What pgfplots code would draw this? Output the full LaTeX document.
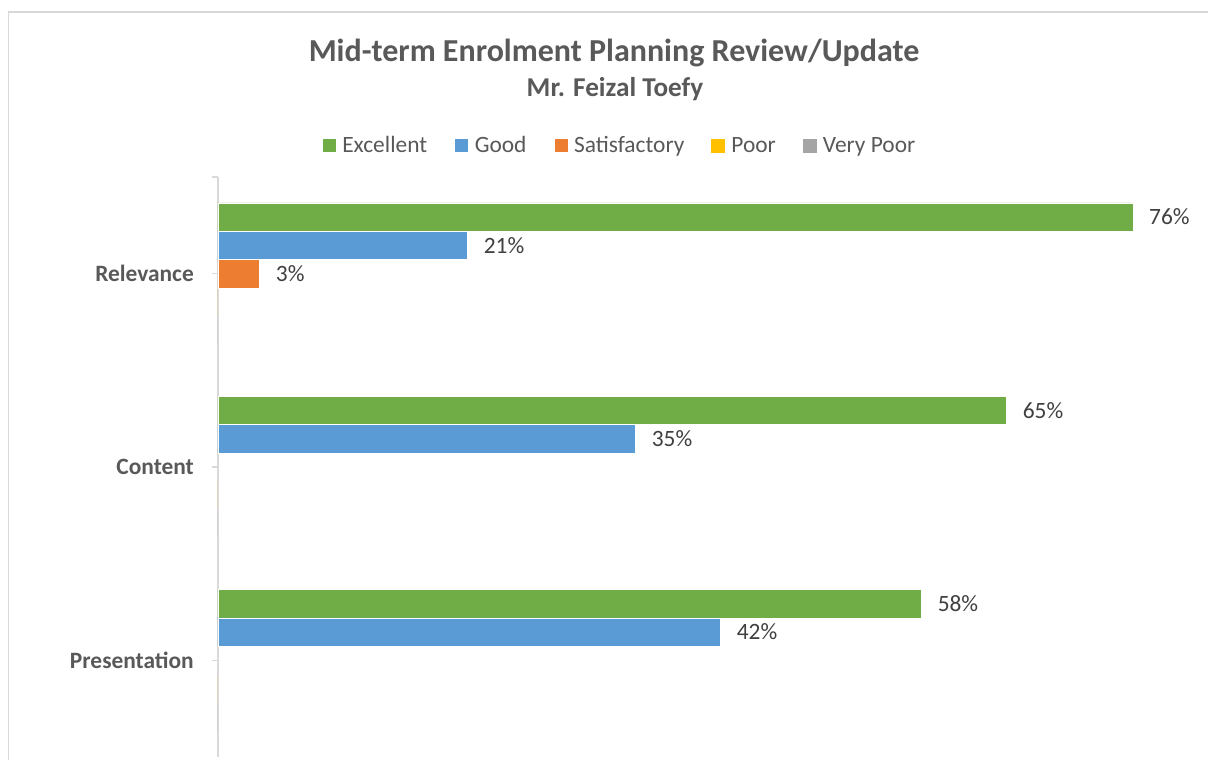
\documentclass[border=0pt]{standalone}
\usepackage{fontspec}
\setmainfont{Carlito}
\usepackage{pgfplots}
\pgfplotsset{compat=1.18}
\definecolor{cGreen}{HTML}{70AD47}
\definecolor{cBlue}{HTML}{5B9BD5}
\definecolor{cOrange}{HTML}{ED7D31}
\definecolor{cGold}{HTML}{FFC000}
\definecolor{cGray}{HTML}{A5A5A5}
\definecolor{cTitle}{HTML}{595959}
\definecolor{cLabel}{HTML}{404040}
\definecolor{cAxis}{HTML}{D9D9D9}
\begin{document}
\begin{tikzpicture}[x=1pt,y=1pt]
\useasboundingbox (0,0) rectangle (1208,760);
\fill[white] (0,0) rectangle (1208,760);
\draw[cAxis, line width=1.2pt] (8.5,-2) -- (8.5,748) -- (1210,748);
\node[anchor=base, inner sep=0pt, font=\fontsize{32}{38}\selectfont\bfseries, text=cTitle] at (614,698) {Mid-term Enrolment Planning Review/Update};
\node[anchor=base, inner sep=0pt, font=\fontsize{27.2}{32}\selectfont\bfseries, text=cTitle] at (615,663.5) {Mr. Feizal Toefy};
\begin{axis}[
  at={(218pt,3pt)}, anchor=south west,
  scale only axis, width=964.8pt, height=580pt,
  clip=false,
  xbar=0pt, bar width=0.14638,
  xmin=0, xmax=80,
  ymin=-0.5, ymax=2.5, y dir=reverse,
  hide x axis,
  axis y line*=left,
  y axis line style={cAxis, line width=1.3pt},
  ytick={0,1,2}, yticklabels={Relevance,Content,Presentation},
  extra y ticks={-0.5}, extra y tick labels={},
  tick align=outside, major tick length=6pt,
  tick style={cAxis, line width=1.3pt},
  yticklabel style={font=\fontsize{23.4}{28}\selectfont\bfseries, text=cTitle, inner sep=0pt, anchor=east},
  yticklabel shift=18pt,
  /pgf/number format/assume math mode=true,
  nodes near coords={\pgfmathprintnumber[fixed,precision=0]{\pgfplotspointmeta}\%},
  nodes near coords align=horizontal,
  every node near coord/.append style={font=\fontsize{23.4}{28}\selectfont, text=cLabel, anchor=west, inner sep=0pt, xshift=16pt},
  legend columns=5,
  legend image code/.code={\fill[#1] (0pt,-7pt) rectangle (14pt,7pt);},
  legend style={draw=none, fill=none, at={(0.4151,1.0543)}, anchor=center,
    font=\fontsize{23.4}{28}\selectfont, text=cTitle,
    nodes={inner sep=0pt},
    /tikz/every odd column/.append style={column sep=6pt},
    /tikz/every even column/.append style={column sep=27pt}},
]
\addplot[fill=cGreen, draw=white, line width=0.6pt, bar shift=-0.29276] coordinates {(75.86,0) (65.38,1) (58.33,2)};
\addplot[fill=cBlue, draw=white, line width=0.6pt, bar shift=-0.14638] coordinates {(20.69,0) (34.62,1) (41.67,2)};
\addplot[fill=cOrange, draw=white, line width=0.6pt, bar shift=0] coordinates {(3.45,0)};
\addplot[fill=cGold, draw=none, bar shift=0.14638, nodes near coords={}] coordinates {(0,0) (0,1) (0,2)};
\addplot[fill=cGray, draw=none, bar shift=0.29276, nodes near coords={}] coordinates {(0,0) (0,1) (0,2)};
\legend{Excellent,Good,Satisfactory,Poor,Very Poor}
\end{axis}
\end{tikzpicture}
\end{document}
